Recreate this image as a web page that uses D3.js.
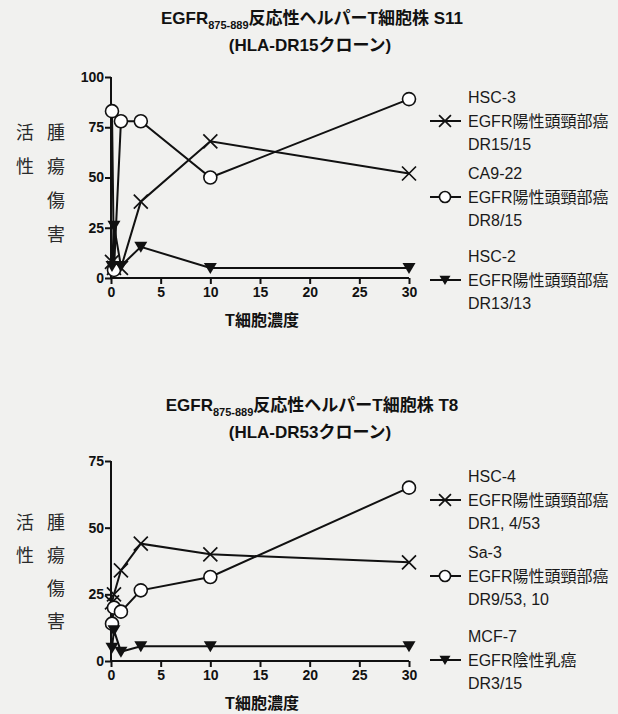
<!DOCTYPE html>
<html>
<head>
<meta charset="utf-8">
<script src="https://cdn.jsdelivr.net/npm/d3@7"></script>
<style>
body { margin: 0; background: #f1f1ef; }
svg { display: block; }
</style>
</head>
<body>
<script>
var w = 618;
var h = 714;

// T cell concentration (x)
var xConc = [0.1, 0.3, 1, 3, 10, 30];
var xTicks = [0, 5, 10, 15, 20, 25, 30];

// S11 (HLA-DR15 clone)
var hsc3 = [8, 5, 5, 38, 68, 52];
var ca922 = [83, 4, 78, 78, 50, 89];
var hsc2 = [6, 26, 6, 15.5, 5, 5];
var yTicksS11 = [0, 25, 50, 75, 100];

// T8 (HLA-DR53 clone)
var hsc4 = [22, 25, 34, 44, 40, 37];
var sa3 = [14, 20, 18.5, 26.5, 31.5, 65];
var mcf7 = [5, 11.5, 3.5, 5.5, 5.5, 5.5];
var yTicksT8 = [0, 25, 50, 75];

var legendS11 = [
    ["HSC-3", "EGFR陽性頭頸部癌", "DR15/15"],
    ["CA9-22", "EGFR陽性頭頸部癌", "DR8/15"],
    ["HSC-2", "EGFR陽性頭頸部癌", "DR13/13"]
];
var legendT8 = [
    ["HSC-4", "EGFR陽性頭頸部癌", "DR1, 4/53"],
    ["Sa-3", "EGFR陽性頭頸部癌", "DR9/53, 10"],
    ["MCF-7", "EGFR陰性乳癌", "DR3/15"]
];
var markers = ["cross", "circle", "tri"];

var font = "'Liberation Sans', 'Noto Sans CJK JP', sans-serif";
var cjk = "'Noto Sans CJK JP', sans-serif";

var svg = d3.select("body")
    .append("svg")
    .attr("width", w)
    .attr("height", h)
    .style("font-family", font);

var x = d3.scaleLinear().domain([0, 30]).range([111, 409]);

function drawMarker(g, type, cx, cy, s) {
    s = s || 1;
    if (type === "circle") {
        g.append("circle")
            .attr("cx", cx).attr("cy", cy).attr("r", 6.5 * s)
            .attr("fill", "#fff").attr("stroke", "#111").attr("stroke-width", 1.6);
    } else if (type === "cross") {
        var d = 7 * s;
        g.append("path")
            .attr("d", "M" + (cx - d) + "," + (cy - d) + "L" + (cx + d) + "," + (cy + d) +
                "M" + (cx - d) + "," + (cy + d) + "L" + (cx + d) + "," + (cy - d))
            .attr("stroke", "#111").attr("stroke-width", 1.7).attr("fill", "none");
    } else {
        g.append("path")
            .attr("d", "M" + (cx - 6.5 * s) + "," + (cy - 5 * s) + "L" + (cx + 6.5 * s) + "," + (cy - 5 * s) +
                "L" + cx + "," + (cy + 6 * s) + "Z")
            .attr("fill", "#111");
    }
}

function drawPanel(p) {
    var y = d3.scaleLinear().domain([0, p.yMax]).range([p.y0, p.yTop]);
    var g = svg.append("g");

    // title
    var t1 = g.append("text")
        .attr("x", 312).attr("y", p.titleY)
        .attr("text-anchor", "middle")
        .attr("font-size", 17).attr("font-weight", "bold").attr("fill", "#111");
    t1.append("tspan").text("EGFR");
    t1.append("tspan").attr("font-size", 11).attr("dy", 5).text("875-889");
    t1.append("tspan").attr("dy", -5).text(p.title);
    g.append("text")
        .attr("x", 310).attr("y", p.titleY + 27)
        .attr("text-anchor", "middle")
        .attr("font-size", 17).attr("font-weight", "bold").attr("fill", "#111")
        .text(p.subtitle);

    // axes
    var xAxis = d3.axisBottom(x).tickValues(xTicks).tickSize(6).tickPadding(3);
    var yAxis = d3.axisLeft(y).tickValues(p.yTicks).tickSize(6).tickPadding(1);

    var gx = g.append("g").attr("transform", "translate(0," + p.y0 + ")").call(xAxis);
    var gy = g.append("g").attr("transform", "translate(111,0)").call(yAxis);
    [gx, gy].forEach(function (a) {
        a.select(".domain").attr("stroke", "#111").attr("stroke-width", 2);
        a.selectAll(".tick line").attr("stroke", "#111").attr("stroke-width", 2);
        a.selectAll(".tick text")
            .attr("fill", "#111").attr("font-size", 14).attr("font-weight", "bold")
            .style("font-family", font);
    });
    gx.select(".domain").attr("d", "M111,0H409");
    gy.select(".domain").attr("d", "M0," + p.yTop + "V" + p.y0);

    g.append("text")
        .attr("x", 262).attr("y", p.y0 + 48)
        .attr("text-anchor", "middle")
        .attr("font-size", 16).attr("font-weight", "bold").attr("fill", "#111")
        .text("T細胞濃度");

    // vertical y label, two columns
    var leftCol = ["活", "性"];
    var rightCol = ["腫", "瘍", "傷", "害"];
    leftCol.forEach(function (c, i) {
        g.append("text").attr("x", 25).attr("y", p.labY + i * p.labStep)
            .attr("text-anchor", "middle").attr("dominant-baseline", "central")
            .attr("font-size", 18).attr("fill", "#2a2a2a").style("font-family", cjk).text(c);
    });
    rightCol.forEach(function (c, i) {
        g.append("text").attr("x", 56).attr("y", p.labY + i * p.labStep)
            .attr("text-anchor", "middle").attr("dominant-baseline", "central")
            .attr("font-size", 18).attr("fill", "#2a2a2a").style("font-family", cjk).text(c);
    });

    // series
    var line = d3.line()
        .x(function (d, i) { return x(xConc[i]); })
        .y(function (d) { return y(d); });

    p.series.forEach(function (s) {
        g.append("path")
            .datum(s)
            .attr("d", line)
            .attr("fill", "none")
            .attr("stroke", "#111")
            .attr("stroke-width", 2);
    });
    p.series.forEach(function (s, k) {
        s.forEach(function (v, i) {
            drawMarker(g, markers[k], x(xConc[i]), y(v));
        });
    });

    // legend
    p.legend.forEach(function (lines, k) {
        var ly = p.legY[k];
        lines.forEach(function (txt, j) {
            g.append("text")
                .attr("x", 468).attr("y", ly + (j - 1) * 23.5)
                .attr("dominant-baseline", "central")
                .attr("font-size", 16).attr("fill", "#1a1a1a")
                .text(txt);
        });
        g.append("line")
            .attr("x1", 430).attr("x2", 461).attr("y1", ly).attr("y2", ly)
            .attr("stroke", "#111").attr("stroke-width", 2);
        drawMarker(g, markers[k], 445, ly, 0.85);
    });
}

drawPanel({
    title: "反応性ヘルパーT細胞株 S11",
    subtitle: "(HLA-DR15クローン)",
    titleY: 24,
    yMax: 100, yTicks: yTicksS11,
    y0: 278, yTop: 77,
    labY: 131, labStep: 34,
    series: [hsc3, ca922, hsc2],
    legend: legendS11,
    legY: [121, 197, 280]
});

drawPanel({
    title: "反応性ヘルパーT細胞株 T8",
    subtitle: "(HLA-DR53クローン)",
    titleY: 411,
    yMax: 75, yTicks: yTicksT8,
    y0: 661, yTop: 461,
    labY: 521, labStep: 33,
    series: [hsc4, sa3, mcf7],
    legend: legendT8,
    legY: [500, 576, 660]
});
</script>
</body>
</html>
